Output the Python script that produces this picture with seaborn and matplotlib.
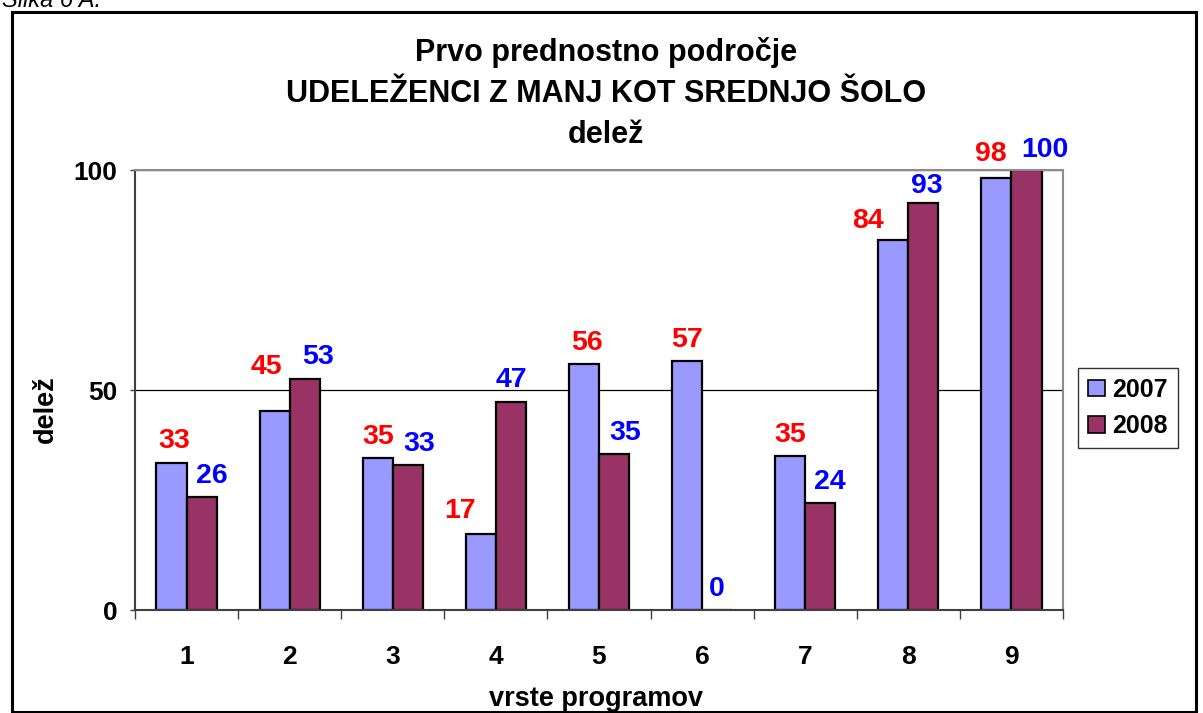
import pandas as pd
import matplotlib
matplotlib.use("Agg")
import matplotlib.pyplot as plt
from matplotlib.patches import Patch, Rectangle
import seaborn as sns

# data
programs = ["1", "2", "3", "4", "5", "6", "7", "8", "9"]
share_2007 = [33.4, 45.2, 34.6, 17.2, 56.0, 56.6, 34.9, 84.1, 98.2]
share_2008 = [25.6, 52.6, 32.9, 47.3, 35.4, 0.0, 24.4, 92.6, 100.0]
years = ["2007", "2008"]

# label nudges (pixels) to mimic where Excel put the value labels
nudge_x_2007 = [3, -8, 0, -21, 3, 0, 0, -25, -6]
nudge_y_2007 = [22, 44, 21, 23, 21, 21, 21, 19, 24]
nudge_x_2008 = [10, 13, 11, 1, 11, 0, 10, 3, 18]
nudge_y_2008 = [21, 22, 21, 22, 21, 21, 21, 17, 20]

df = pd.DataFrame({
    "program": programs * 2,
    "share": share_2007 + share_2008,
    "year": [years[0]] * len(programs) + [years[1]] * len(programs),
})

sns.set_style("white")
plt.rcParams["font.family"] = ["Liberation Sans", "DejaVu Sans"]
plt.rcParams["font.weight"] = "bold"
for key in ["text.color", "axes.labelcolor", "xtick.labelcolor", "ytick.labelcolor"]:
    plt.rcParams[key] = "black"

W, H = 1203, 713
fig = plt.figure(figsize=(W / 100, H / 100), dpi=100)
ax = fig.add_axes([135 / W, 1 - 610 / H, 928 / W, 440 / H])

colors = ["#9999FF", "#993366"]
sns.barplot(data=df, x="program", y="share", hue="year", order=programs,
            hue_order=years, palette=colors, saturation=1, width=0.583,
            edgecolor="black", linewidth=1.6, legend=False, ax=ax)

ax.set_xlim(-0.5, len(programs) - 0.5)
ax.set_ylim(0, 100)
ax.set_yticks([0, 50, 100])
ax.yaxis.grid(True, color="black", linewidth=0.9)
ax.set_axisbelow(True)

# category labels at centres, tick marks at boundaries
ax.set_xticks(range(len(programs)))
ax.set_xticklabels(programs, fontsize=19, fontweight="bold")
ax.set_xticks([i - 0.5 for i in range(len(programs) + 1)], minor=True)
ax.tick_params(axis="x", which="major", length=0, pad=25)
ax.tick_params(axis="x", which="minor", length=6.5, width=1, color="#404040",
               direction="out", bottom=True)
ax.tick_params(axis="y", length=3.6, width=1, color="#404040", pad=9,
               labelsize=19, left=True)
for t in ax.get_yticklabels():
    t.set_fontweight("bold")

for side in ["left", "bottom"]:
    ax.spines[side].set_color("#404040")
    ax.spines[side].set_linewidth(1.5)
for side in ["top", "right"]:
    ax.spines[side].set_color("#8c8c8c")
    ax.spines[side].set_linewidth(1.5)

ax.set_xlabel("vrste programov", fontsize=19.5, fontweight="bold")
ax.xaxis.set_label_coords(0.497, -0.172)
ax.set_ylabel("delež", fontsize=19.5, fontweight="bold")
ax.yaxis.set_label_coords(-0.082, 0.457)

# value labels
label_colors = ["#FF0000", "#0000FF"]
nudges = [zip(nudge_x_2007, nudge_y_2007), zip(nudge_x_2008, nudge_y_2008)]
for cont, nud, col in zip(ax.containers, nudges, label_colors):
    for bar, (dx, dy) in zip(cont, nud):
        v = bar.get_height()
        ax.annotate(f"{v:.0f}", (bar.get_x() + bar.get_width() / 2, v),
                    xytext=(dx, dy), textcoords="offset pixels",
                    ha="center", va="center", color=col,
                    fontsize=20.5, fontweight="bold")

# title
titles = ["Prvo prednostno področje", "UDELEŽENCI Z MANJ KOT SREDNJO ŠOLO", "delež"]
for i, line in enumerate(titles):
    fig.text(606 / W, 1 - (61 + 41 * i) / H, line, ha="center", va="baseline",
             fontsize=22, fontweight="bold")

# legend
handles = [Patch(facecolor=c, edgecolor="black", linewidth=1.2) for c in colors]
leg = fig.legend(handles, years, loc="center",
                 bbox_to_anchor=(1128 / W, 1 - 408 / H),
                 prop={"weight": "bold", "size": 18}, frameon=True,
                 fancybox=False, edgecolor="black", handlelength=0.65,
                 handleheight=0.65, handletextpad=0.3, borderpad=0.4,
                 labelspacing=0.5, borderaxespad=0)
leg.get_frame().set_linewidth(1.0)

# outer chart border and cut-off caption
fig.patches.append(Rectangle((12 / W, 1.5 / H), (1196 - 12) / W, (713 - 12 - 1.5) / H,
                             transform=fig.transFigure, fill=False,
                             edgecolor="black", linewidth=2.2))
fig.text(2 / W, 1 - 7 / H, "Slika 6 A.", ha="left", va="baseline",
         fontsize=17, fontstyle="italic", fontweight="normal")

fig.savefig("out.png", dpi=100)
